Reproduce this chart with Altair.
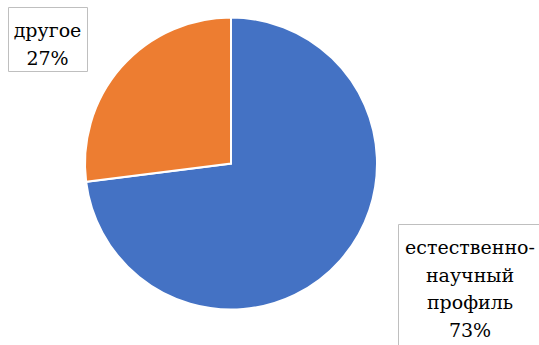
import altair as alt
import pandas as pd

categories = ["естественно-научный профиль", "другое"]
values = [73, 27]
colors = ["#4472C4", "#ED7D31"]
label_texts = ["естественно-\nнаучный\nпрофиль\n73%", "другое\n27%"]

df = pd.DataFrame({"category": categories, "value": values, "order": [0, 1]})

pie = alt.Chart(df).mark_arc(radius=146, stroke="white", strokeWidth=2).encode(
    theta=alt.Theta("value:Q", stack=True),
    order=alt.Order("order:Q"),
    color=alt.Color("category:N", scale=alt.Scale(domain=categories, range=colors), legend=None),
    x=alt.value(231),
    y=alt.value(163.5),
)

def box(x1, x2, y1, y2):
    return alt.Chart(df.head(1)).mark_rect(fill="white", stroke="#BFBFBF", strokeWidth=1).encode(
        x=alt.value(x1), x2=alt.value(x2), y=alt.value(y1), y2=alt.value(y2)
    )

def label(i, x, y):
    d = pd.DataFrame({"label": [label_texts[i]]})
    return alt.Chart(d).mark_text(
        font="DejaVu Serif", fontSize=19, lineBreak="\n", lineHeight=27.5,
        align="center", baseline="alphabetic", color="#000000"
    ).encode(text="label:N", x=alt.value(x), y=alt.value(y))

chart = alt.layer(
    pie,
    box(8.5, 87.5, 7.5, 71.5),
    label(1, 47.5, 37),
    box(398.5, 545, 224.5, 350),
    label(0, 470, 254),
).properties(
    width=539, height=345, padding=0, autosize=alt.AutoSizeParams(type="none")
).configure_view(stroke=None)

chart.save("out.html", embed_options={"renderer": "svg", "actions": False})
